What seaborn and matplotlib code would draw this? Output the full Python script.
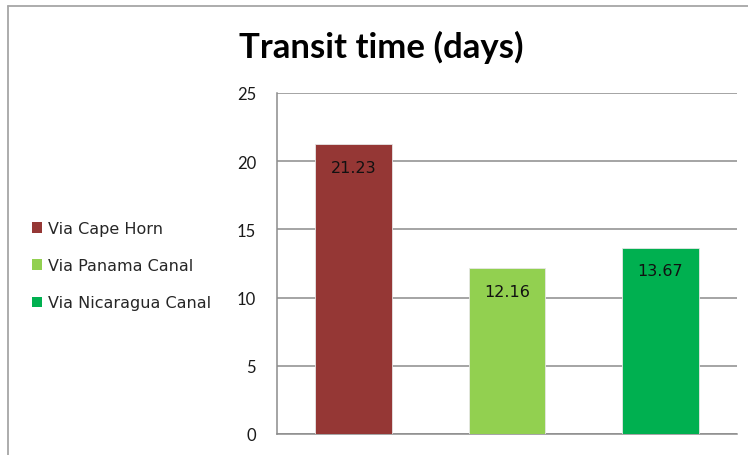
import matplotlib
matplotlib.use("Agg")
import matplotlib.pyplot as plt
from matplotlib.patches import Patch
from matplotlib.lines import Line2D
import seaborn as sns
import pandas as pd

routes = ["Via Cape Horn", "Via Panama Canal", "Via Nicaragua Canal"]
days = [21.23, 12.16, 13.67]
colors = ["#953735", "#92D050", "#00B050"]
yticks = [0, 5, 10, 15, 20, 25]
title = "Transit time (days)"

df = pd.DataFrame({"route": routes, "days": days})

sns.set_theme(style="white")
plt.rcParams["font.family"] = ["DejaVu Sans"]

fig = plt.figure(figsize=(7.48, 4.56), dpi=100)
ax = fig.add_axes([277 / 748, 21 / 456, 460 / 748, 341 / 456])

sns.barplot(data=df, x="route", y="days", hue="route", palette=colors,
            width=0.5, legend=False, ax=ax, saturation=1,
            edgecolor="#e6e6e6", linewidth=0.6, zorder=3)

ax.set_ylim(0, 25)
ax.set_yticks(yticks)
ax.set_yticklabels([str(t) for t in yticks], fontsize=12, family="Lato")
ax.tick_params(axis="y", length=0, pad=15, colors="#1a1a1a")
ax.set_xticks([])
ax.set_xlabel("")
ax.set_ylabel("")
ax.grid(axis="y", color="#8c8c8c", linewidth=1.1, zorder=0)
ax.set_axisbelow(True)
for side in ["top", "right"]:
    ax.spines[side].set_visible(False)
for side in ["left", "bottom"]:
    ax.spines[side].set_color("#8c8c8c")
    ax.spines[side].set_linewidth(1.1)

# value labels near the top of each bar
for i, v in enumerate(days):
    ax.annotate(f"{v:.2f}", xy=(i, v), xytext=(0, -16.5), textcoords="offset points",
                ha="center", va="center", fontsize=11.5, color="#111111")

# title
fig.text(381 / 748, 1 - 47 / 456, title, ha="center", va="center",
         fontsize=25, fontweight="bold", family="Lato", color="black")

# legend on the left
handles = [Patch(facecolor=c, edgecolor="none") for c in colors]
fig.legend(handles, routes, loc="upper left", bbox_to_anchor=(32 / 748, 1 - 222 / 456),
           frameon=False, fontsize=11.5, handlelength=0.63, handleheight=0.63,
           handletextpad=0.35, labelspacing=1.39, borderpad=0, borderaxespad=0)

# outer chart frame
fig.add_artist(Line2D([8 / 748, 8 / 748], [0, 1 - 7 / 456], transform=fig.transFigure,
                      color="#a6a6a6", linewidth=1.3))
fig.add_artist(Line2D([8 / 748, 1], [1 - 7 / 456, 1 - 7 / 456], transform=fig.transFigure,
                      color="#a6a6a6", linewidth=1.3))

fig.savefig("out.png", dpi=100)
